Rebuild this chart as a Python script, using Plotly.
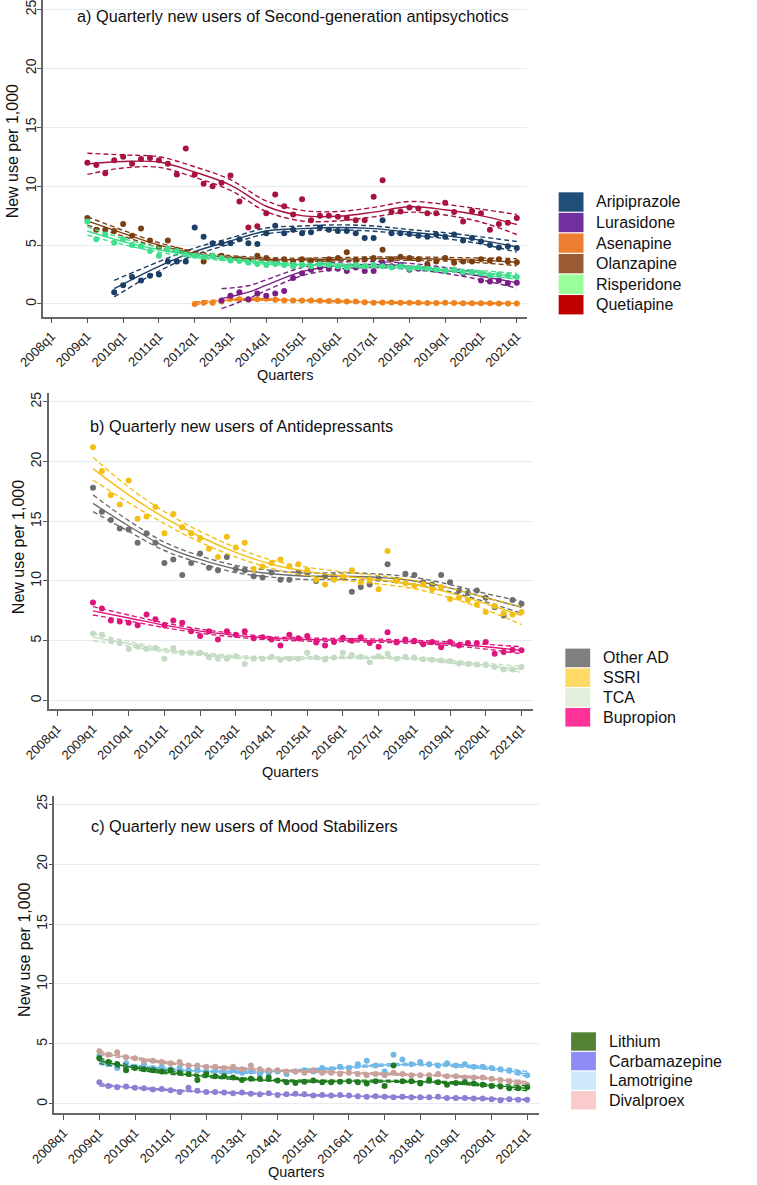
import plotly.graph_objects as go

# ---------------- tick labels ----------------
QUARTER_TICKS = ["2008q1", "2009q1", "2010q1", "2011q1", "2012q1", "2013q1", "2014q1",
                 "2015q1", "2016q1", "2017q1", "2018q1", "2019q1", "2020q1", "2021q1"]
Y_TICKS = [0, 5, 10, 15, 20, 25]
YEAR_NODES = ["2009q1", "2010q1", "2011q1", "2012q1", "2013q1", "2014q1", "2015q1",
              "2016q1", "2017q1", "2018q1", "2019q1", "2020q1", "2021q1"]

# ---------------- panel a: second-generation antipsychotics ----------------
aripiprazole_start = "2009q4"
aripiprazole = [1.0, 1.6, 2.3, 2.0, 2.4, 2.5, 3.6, 3.6, 3.6, 6.5, 5.7, 5.15, 5.15, 5.15, 5.5, 5.15, 5.1,
                6.0, 6.65, 6.0, 6.3, 6.0, 6.1, 6.5, 6.3, 6.2, 6.2, 6.0, 5.6, 5.6, 7.1, 6.0, 6.0, 5.95,
                5.8, 5.7, 5.9, 5.7, 5.9, 5.4, 5.6, 5.3, 5.0, 4.8, 4.9, 4.75]
aripiprazole_fit_x = ["2009q4", "2011q1", "2012q1", "2013q1", "2014q1", "2015q1", "2016q1",
                      "2017q1", "2018q1", "2019q1", "2020q1", "2021q1"]
aripiprazole_fit = [1.3, 3.2, 4.45, 5.35, 6.2, 6.4, 6.5, 6.4, 6.1, 5.8, 5.4, 4.85]
aripiprazole_ci = [0.7, 0.4, 0.3, 0.25, 0.25, 0.22, 0.22, 0.22, 0.22, 0.25, 0.3, 0.45]

lurasidone_start = "2012q4"
lurasidone = [0.3, 0.7, 1.0, 0.4, 0.9, 0.7, 0.9, 1.1, 2.2, 2.6, 2.9, 3.1, 3.0, 3.0, 2.8, 3.1, 2.8,
              2.8, 3.5, 3.2, 3.3, 2.9, 3.0, 3.1, 2.9, 2.8, 2.9, 2.6, 2.7, 2.0, 1.9, 2.0, 1.75, 1.8]
lurasidone_fit_x = ["2012q4", "2013q3", "2014q1", "2015q1", "2016q1", "2017q1", "2018q1",
                    "2019q1", "2020q1", "2021q1"]
lurasidone_fit = [0.45, 1.0, 1.6, 2.75, 3.25, 3.35, 3.2, 2.85, 2.35, 1.8]
lurasidone_ci = [0.85, 0.55, 0.45, 0.35, 0.3, 0.25, 0.25, 0.25, 0.3, 0.45]

asenapine_start = "2012q1"
asenapine = [0.0, 0.1, 0.1, 0.2, 0.45, 0.4, 0.35, 0.4, 0.45, 0.35, 0.3, 0.3, 0.3, 0.3, 0.28, 0.25,
             0.25, 0.22, 0.2, 0.15, 0.1, 0.12, 0.12, 0.1, 0.1, 0.1, 0.08, 0.08, 0.1, 0.08, 0.07,
             0.07, 0.06, 0.06, 0.05, 0.05, 0.05]
asenapine_fit_x = ["2012q1", "2013q1", "2014q1", "2015q1", "2016q1", "2017q1", "2018q1",
                   "2019q1", "2020q1", "2021q1"]
asenapine_fit = [0.05, 0.35, 0.38, 0.3, 0.22, 0.15, 0.1, 0.08, 0.06, 0.05]
asenapine_ci = [0.12, 0.08, 0.07, 0.05, 0.05, 0.05, 0.05, 0.05, 0.05, 0.07]

olanzapine_start = "2009q1"
olanzapine = [7.3, 6.3, 6.3, 6.2, 6.8, 5.8, 6.4, 5.4, 4.8, 5.4, 4.6, 4.4, 4.2, 3.6, 4.1, 4.1, 3.8,
              3.8, 3.7, 4.1, 3.9, 3.7, 3.8, 3.6, 3.8, 3.7, 3.6, 3.8, 3.9, 4.4, 3.7, 3.8, 3.9, 4.6,
              3.8, 4.0, 3.9, 3.8, 3.4, 3.6, 3.9, 3.5, 3.6, 3.6, 3.8, 3.7, 3.8, 3.6, 3.55]
olanzapine_fit = [7.05, 6.0, 5.0, 4.3, 3.95, 3.8, 3.75, 3.8, 3.85, 3.85, 3.8, 3.7, 3.55]
olanzapine_ci = [0.35, 0.25, 0.2, 0.17, 0.15, 0.14, 0.14, 0.14, 0.14, 0.14, 0.15, 0.2, 0.3]

risperidone_start = "2009q1"
risperidone = [7.0, 5.5, 5.9, 5.2, 5.5, 5.0, 4.9, 4.5, 4.1, 4.7, 4.5, 4.2, 4.1, 4.0, 4.1, 3.9, 3.7,
               3.65, 3.5, 3.4, 3.3, 3.4, 3.3, 3.2, 3.3, 3.2, 3.4, 3.3, 3.2, 3.1, 3.3, 3.2, 3.3, 3.2,
               3.1, 3.2, 3.0, 3.1, 3.0, 2.9, 2.8, 2.9, 2.7, 2.7, 2.6, 2.45, 2.5, 2.4, 2.3]
risperidone_fit = [6.2, 5.3, 4.6, 4.1, 3.75, 3.5, 3.35, 3.3, 3.2, 3.1, 2.9, 2.65, 2.35]
risperidone_ci = [0.35, 0.25, 0.2, 0.15, 0.13, 0.12, 0.12, 0.12, 0.12, 0.12, 0.13, 0.18, 0.25]

quetiapine_start = "2009q1"
quetiapine = [12.0, 11.8, 11.1, 12.2, 12.5, 11.9, 12.3, 12.4, 12.2, 11.9, 11.0, 13.2, 11.0, 10.2,
              10.0, 10.3, 10.9, 8.7, 6.5, 6.6, 7.7, 9.3, 8.3, 7.6, 8.9, 7.1, 7.5, 7.5, 7.4, 7.3,
              7.1, 7.1, 9.1, 10.5, 7.8, 7.85, 8.2, 8.1, 7.7, 7.7, 8.6, 7.8, 7.0, 7.9, 7.7, 6.3,
              6.8, 6.9, 7.3]
quetiapine_fit = [11.9, 12.1, 12.05, 11.2, 10.1, 8.3, 7.5, 7.45, 7.8, 8.25, 8.0, 7.5, 6.75]
quetiapine_ci = [0.9, 0.55, 0.45, 0.45, 0.45, 0.45, 0.45, 0.4, 0.4, 0.45, 0.45, 0.55, 0.85]

# ---------------- panel b: antidepressants ----------------
other_ad = [17.8, 15.8, 15.1, 14.4, 14.3, 13.2, 14.0, 13.2, 11.5, 11.8, 10.5, 11.5, 12.3, 11.1,
            10.9, 12.0, 11.0, 10.9, 10.4, 10.3, 10.7, 10.1, 10.1, 10.7, 10.7, 10.0, 10.4, 10.4,
            10.3, 9.1, 9.5, 9.7, 10.2, 11.4, 10.1, 10.6, 10.5, 9.9, 9.7, 10.5, 9.9, 9.2, 9.0,
            9.2, 8.6, 7.8, 7.1, 8.4, 8.1]
other_ad_fit = [16.5, 14.6, 12.9, 11.8, 11.0, 10.6, 10.4, 10.4, 10.3, 10.0, 9.4, 8.6, 7.8]
other_ad_ci = [0.7, 0.45, 0.35, 0.3, 0.3, 0.28, 0.28, 0.28, 0.28, 0.3, 0.3, 0.35, 0.5]

ssri = [21.2, 19.2, 17.2, 16.4, 18.4, 15.2, 15.4, 16.2, 14.0, 15.6, 14.5, 14.0, 13.6, 12.7, 12.0,
        13.7, 12.8, 13.2, 11.0, 11.2, 11.5, 11.8, 11.2, 11.4, 10.9, 10.1, 9.7, 10.1, 10.4, 10.9,
        9.9, 10.1, 9.3, 12.5, 10.0, 9.8, 9.6, 9.7, 9.3, 9.5, 8.5, 8.6, 8.4, 8.0, 7.4, 7.9, 7.3,
        7.2, 7.4]
ssri_fit = [19.4, 17.2, 15.3, 13.7, 12.4, 11.4, 10.8, 10.4, 10.1, 9.7, 9.0, 8.1, 7.1]
ssri_ci = [0.95, 0.65, 0.5, 0.45, 0.4, 0.35, 0.35, 0.35, 0.35, 0.35, 0.4, 0.5, 0.75]

tca = [5.6, 5.5, 5.0, 4.8, 4.3, 4.5, 4.3, 4.4, 3.5, 4.4, 4.0, 4.0, 4.0, 3.6, 3.5, 3.5, 3.7, 3.05,
       3.5, 3.5, 3.65, 3.4, 3.5, 3.5, 4.0, 3.6, 3.4, 3.6, 4.0, 3.8, 3.65, 3.2, 3.7, 3.9, 3.5,
       3.65, 3.6, 3.45, 3.4, 3.35, 3.3, 3.1, 3.05, 3.0, 3.0, 2.8, 2.6, 2.6, 2.8]
tca_fit = [5.3, 4.75, 4.2, 3.9, 3.65, 3.55, 3.55, 3.6, 3.6, 3.5, 3.25, 2.95, 2.6]
tca_ci = [0.3, 0.2, 0.15, 0.12, 0.12, 0.1, 0.1, 0.1, 0.1, 0.1, 0.12, 0.15, 0.25]

bupropion = [8.2, 7.7, 6.7, 6.6, 6.5, 6.3, 7.2, 6.8, 6.3, 6.7, 6.5, 5.8, 5.4, 5.8, 5.1, 5.8, 5.5,
             5.8, 5.2, 5.3, 5.1, 4.6, 5.5, 5.2, 5.4, 4.85, 4.6, 4.9, 5.25, 5.0, 5.3, 4.8, 4.5,
             5.7, 4.85, 5.1, 5.0, 4.7, 4.9, 4.45, 4.9, 4.6, 4.8, 4.8, 4.9, 3.9, 4.05, 4.25, 4.2]
bupropion_fit = [7.5, 6.9, 6.3, 5.8, 5.45, 5.2, 5.1, 5.05, 5.0, 4.9, 4.75, 4.5, 4.2]
bupropion_ci = [0.35, 0.25, 0.2, 0.17, 0.15, 0.13, 0.13, 0.13, 0.13, 0.13, 0.15, 0.2, 0.3]

# ---------------- panel c: mood stabilizers ----------------
lithium = [3.8, 3.5, 3.3, 2.8, 3.0, 2.9, 2.8, 2.7, 2.8, 2.6, 2.5, 2.0, 2.5, 2.3, 2.3, 2.2, 2.0,
           2.1, 2.1, 2.2, 1.95, 1.8, 1.75, 1.85, 1.95, 1.8, 1.8, 1.85, 1.9, 1.8, 1.7, 1.9, 1.5,
           3.2, 1.9, 1.9, 1.7, 2.0, 1.8, 1.6, 1.75, 1.8, 1.7, 1.6, 1.5, 1.45, 1.3, 1.3, 1.4]
lithium_fit = [3.6, 3.0, 2.6, 2.3, 2.1, 1.95, 1.9, 1.9, 1.9, 1.85, 1.75, 1.55, 1.3]
lithium_ci = [0.22, 0.15, 0.12, 0.1, 0.09, 0.08, 0.08, 0.08, 0.08, 0.08, 0.09, 0.12, 0.2]

carbamazepine = [1.8, 1.5, 1.4, 1.45, 1.35, 1.3, 1.2, 1.25, 1.15, 1.0, 1.35, 1.1, 1.0, 1.0, 0.95,
                 0.9, 0.95, 0.85, 0.8, 0.9, 0.75, 0.8, 0.85, 0.8, 0.7, 0.75, 0.7, 0.75, 0.7, 0.65,
                 0.6, 0.65, 0.6, 0.55, 0.6, 0.55, 0.55, 0.55, 0.6, 0.5, 0.5, 0.5, 0.45, 0.45, 0.4,
                 0.3, 0.4, 0.35, 0.35]
carbamazepine_fit = [1.6, 1.35, 1.15, 1.0, 0.9, 0.8, 0.72, 0.66, 0.6, 0.55, 0.5, 0.43, 0.37]
carbamazepine_ci = [0.1, 0.07, 0.05, 0.04, 0.04, 0.04, 0.04, 0.04, 0.04, 0.04, 0.04, 0.05, 0.07]

lamotrigine = [4.0, 3.3, 3.0, 3.4, 3.1, 3.3, 3.0, 3.1, 2.9, 3.0, 2.8, 2.9, 2.7, 2.8, 2.6, 2.8, 2.6,
               2.7, 2.5, 2.6, 2.7, 2.5, 2.7, 2.8, 2.7, 3.0, 2.9, 3.1, 3.0, 3.3, 3.6, 3.2, 2.7, 4.1,
               3.7, 3.3, 3.5, 3.3, 3.2, 3.4, 3.2, 3.3, 3.1, 3.1, 3.0, 2.9, 2.8, 2.6, 2.4]
lamotrigine_fit = [3.5, 3.1, 2.85, 2.7, 2.65, 2.7, 2.85, 3.05, 3.25, 3.3, 3.2, 2.95, 2.5]
lamotrigine_ci = [0.2, 0.13, 0.1, 0.09, 0.09, 0.09, 0.09, 0.09, 0.09, 0.09, 0.1, 0.12, 0.2]

divalproex = [4.4, 4.1, 4.3, 3.9, 3.8, 3.6, 3.6, 3.5, 3.4, 3.5, 3.2, 3.2, 3.1, 3.1, 3.0, 3.1, 2.9,
              3.2, 2.9, 2.8, 2.8, 2.7, 2.7, 2.6, 2.8, 2.6, 2.6, 2.5, 2.6, 2.5, 2.4, 2.5, 2.4, 2.6,
              2.5, 2.4, 2.4, 2.4, 2.5, 2.3, 2.3, 2.2, 2.2, 2.2, 2.1, 2.0, 1.9, 1.8, 1.6]
divalproex_fit = [4.25, 3.8, 3.4, 3.1, 2.95, 2.8, 2.7, 2.6, 2.5, 2.42, 2.3, 2.1, 1.7]
divalproex_ci = [0.15, 0.1, 0.08, 0.07, 0.07, 0.07, 0.07, 0.07, 0.07, 0.07, 0.07, 0.09, 0.15]

# ---------------- geometry / style ----------------
W, H = 757, 1185
FONT = "Liberation Sans, Arial, sans-serif"


def qnum(label):
    y, q = label.split("q")
    return int(y) + (int(q) - 1) / 4


def quarter_seq(start, n):
    y, q = map(int, start.split("q"))
    out = []
    for _ in range(n):
        out.append(y + (q - 1) / 4)
        q += 1
        if q > 4:
            q, y = 1, y + 1
    return out


def px(x):
    return x / W


def py(y):
    return 1 - y / H


fig = go.Figure()


def add_series(axis_idx, start, values, fit_x, fit, ci, color, ci_color=None):
    xa = "x" if axis_idx == 1 else f"x{axis_idx}"
    ya = "y" if axis_idx == 1 else f"y{axis_idx}"
    fx = [qnum(v) for v in fit_x]
    up = [f + c for f, c in zip(fit, ci)]
    lo = [f - c for f, c in zip(fit, ci)]
    cc = ci_color or color
    for yy in (up, lo):
        fig.add_trace(go.Scatter(x=fx, y=yy, mode="lines", xaxis=xa, yaxis=ya,
                                 line=dict(color=cc, width=1.4, dash="5px,3px", shape="spline", smoothing=1.0),
                                 showlegend=False, hoverinfo="skip"))
    fig.add_trace(go.Scatter(x=fx, y=fit, mode="lines", xaxis=xa, yaxis=ya,
                             line=dict(color=color, width=1.4, shape="spline", smoothing=1.0),
                             showlegend=False, hoverinfo="skip"))
    fig.add_trace(go.Scatter(x=quarter_seq(start, len(values)), y=values, mode="markers",
                             xaxis=xa, yaxis=ya, marker=dict(color=color, size=6),
                             showlegend=False))


# panel a
add_series(1, asenapine_start, asenapine, asenapine_fit_x, asenapine_fit, asenapine_ci, "#f0821e")
add_series(1, lurasidone_start, lurasidone, lurasidone_fit_x, lurasidone_fit, lurasidone_ci, "#7b1f86")
add_series(1, aripiprazole_start, aripiprazole, aripiprazole_fit_x, aripiprazole_fit, aripiprazole_ci, "#1b3f66")
add_series(1, olanzapine_start, olanzapine, YEAR_NODES, olanzapine_fit, olanzapine_ci, "#7c3f10")
add_series(1, risperidone_start, risperidone, YEAR_NODES, risperidone_fit, risperidone_ci, "#3de08c")
add_series(1, quetiapine_start, quetiapine, YEAR_NODES, quetiapine_fit, quetiapine_ci, "#a8123e")

# panel b
add_series(2, "2009q1", tca, YEAR_NODES, tca_fit, tca_ci, "#c4dcc4")
add_series(2, "2009q1", bupropion, YEAR_NODES, bupropion_fit, bupropion_ci, "#e0147c")
add_series(2, "2009q1", other_ad, YEAR_NODES, other_ad_fit, other_ad_ci, "#6e6e6e")
add_series(2, "2009q1", ssri, YEAR_NODES, ssri_fit, ssri_ci, "#f2c014")

# panel c
add_series(3, "2009q1", lamotrigine, YEAR_NODES, lamotrigine_fit, lamotrigine_ci, "#6fb8e8")
add_series(3, "2009q1", divalproex, YEAR_NODES, divalproex_fit, divalproex_ci, "#c9a19b")
add_series(3, "2009q1", carbamazepine, YEAR_NODES, carbamazepine_fit, carbamazepine_ci, "#8b7fd6")
add_series(3, "2009q1", lithium, YEAR_NODES, lithium_fit, lithium_ci, "#1f7a1f")

tickvals_x = [qnum(t) for t in QUARTER_TICKS]


def xaxis(dom, rng, anchor):
    return dict(domain=dom, range=rng, anchor=anchor, tickvals=tickvals_x, ticktext=QUARTER_TICKS,
                tickangle=-45, ticks="outside", ticklen=5, tickwidth=1.2, tickcolor="#555",
                showline=True, linecolor="#666", linewidth=1.5, showgrid=False, zeroline=False,
                automargin=False, ticklabeloverflow="allow",
                tickfont=dict(size=13, color="#222", family=FONT), fixedrange=True)


def yaxis(dom, rng, anchor):
    return dict(domain=dom, range=rng, anchor=anchor, tickvals=Y_TICKS, tickangle=-90,
                ticks="outside", ticklen=4, tickwidth=1.2, tickcolor="#555", showline=True,
                linecolor="#666", linewidth=1.5, showgrid=True, gridcolor="#e4edf0", gridwidth=1,
                zeroline=False, automargin=False, ticklabeloverflow="allow", ticklabelstandoff=-4,
                tickfont=dict(size=14, color="#222", family=FONT), fixedrange=True)


S = 0.955  # horizontal pixel scale
panels = [
    # (x left px, x right px, plot top px, plot bottom px, x range, y range)
    (45 * S, 552 * S, 0, 316.7, [2007.76, 2021.29], [-1.08, 25.81]),
    (51 * S, 558 * S, 393, 709.3, [2007.76, 2021.32], [-0.74, 25.73]),
    (57 * S, 564 * S, 796, 1113.3, [2007.74, 2021.32], [-0.78, 25.67]),
]

layout = dict(width=W, height=H, margin=dict(l=0, r=0, t=0, b=0, autoexpand=False),
              paper_bgcolor="white", plot_bgcolor="white",
              font=dict(family=FONT, color="#111"), showlegend=False)
for i, (xl, xr, yt, yb, xr_, yr_) in enumerate(panels, start=1):
    sx = "" if i == 1 else str(i)
    layout[f"xaxis{sx}"] = xaxis([px(xl), px(xr)], xr_, f"y{sx}")
    layout[f"yaxis{sx}"] = yaxis([py(yb), py(yt)], yr_, f"x{sx}")
fig.update_layout(**layout)

annotations = []
titles = [
    ("a) Quarterly new users of Second-generation antipsychotics", 79 * S, 16),
    ("b) Quarterly new users of Antidepressants", 92 * S, 426),
    ("c) Quarterly new users of Mood Stabilizers", 93 * S, 826),
]
for text, x, y in titles:
    annotations.append(dict(text=text, x=px(x), y=py(y), xref="paper", yref="paper",
                            xanchor="left", yanchor="middle", showarrow=False,
                            font=dict(size=16.3, color="#111", family=FONT)))

for (ytitle_x, ytitle_y, xtitle_x, xtitle_y) in [(14 * S, 151, 298 * S, 375),
                                                  (19 * S, 547, 304 * S, 772),
                                                  (25 * S, 950, 310 * S, 1172)]:
    annotations.append(dict(text="New use per 1,000", x=px(ytitle_x), y=py(ytitle_y), xref="paper",
                            yref="paper", textangle=-90, showarrow=False, xanchor="center",
                            yanchor="middle", font=dict(size=16, color="#111", family=FONT)))
    annotations.append(dict(text="Quarters", x=px(xtitle_x), y=py(xtitle_y), xref="paper",
                            yref="paper", showarrow=False, xanchor="center", yanchor="middle",
                            font=dict(size=14.5, color="#111", family=FONT)))

# legends (manual colour blocks)
legend_a = ["Aripiprazole", "Lurasidone", "Asenapine", "Olanzapine", "Risperidone", "Quetiapine"]
legend_a_colors = ["#1f4e79", "#7030a0", "#ed7d31", "#9a5b34", "#99ff99", "#c00000"]
legend_b = ["Other AD", "SSRI", "TCA", "Bupropion"]
legend_b_colors = ["#7f7f7f", "#ffd966", "#e2efda", "#ff3399"]
legend_c = ["Lithium", "Carbamazepine", "Lamotrigine", "Divalproex"]
legend_c_colors = ["#548235", "#8f8cf5", "#cde9fb", "#f9cbcb"]

shapes = []
for labels, colors, x0, x1, top, hgt, tx in [
    (legend_a, legend_a_colors, 585 * S, 611 * S, 191.7, 20.55, 621.5 * S),
    (legend_b, legend_b_colors, 592 * S, 618 * S, 648, 19.8, 629 * S),
    (legend_c, legend_c_colors, 598 * S, 624 * S, 1031.7, 19.6, 636 * S),
]:
    for i, (lab, col) in enumerate(zip(labels, colors)):
        y0 = top + i * hgt
        shapes.append(dict(type="rect", xref="paper", yref="paper", x0=px(x0), x1=px(x1),
                           y0=py(y0 + 0.6), y1=py(y0 + hgt - 0.6), fillcolor=col,
                           line=dict(width=0)))
        annotations.append(dict(text=lab, x=px(tx), y=py(y0 + hgt / 2), xref="paper", yref="paper",
                                xanchor="left", yanchor="middle", showarrow=False,
                                font=dict(size=16, color="#111", family=FONT)))

fig.update_layout(annotations=annotations, shapes=shapes)
fig.write_html("out.html")
